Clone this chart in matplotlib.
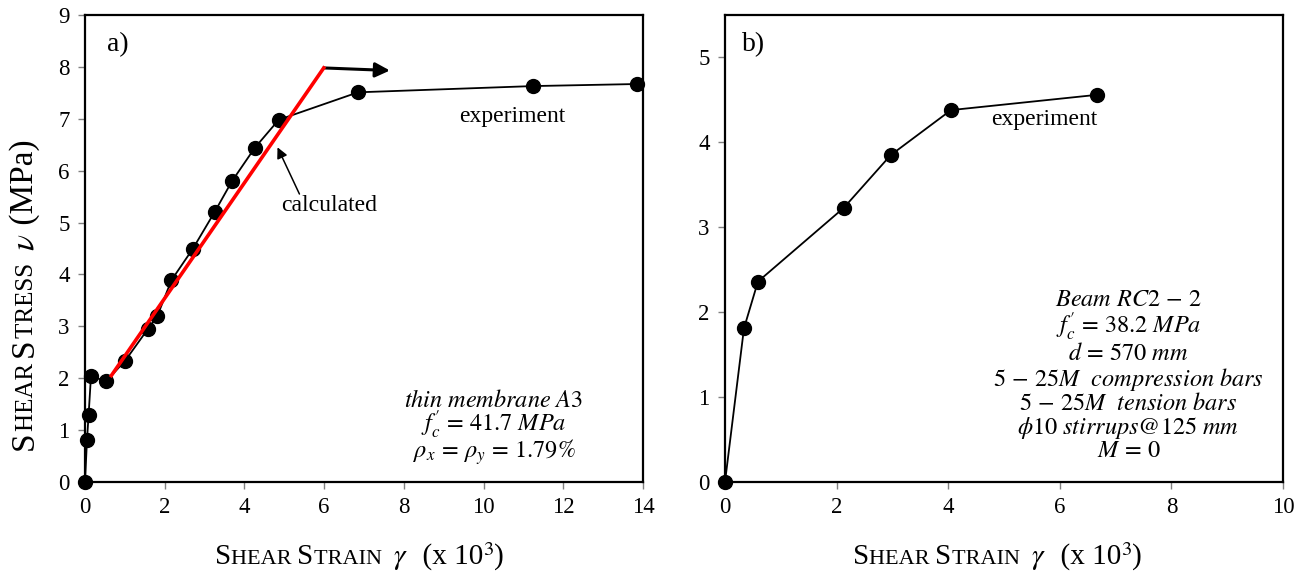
import matplotlib
matplotlib.use("Agg")
import matplotlib.pyplot as plt
import numpy as np

# panel a) thin membrane A3
strain_a = [0.0, 0.05, 0.09, 0.15, 0.53, 1.01, 1.57, 1.81, 2.17, 2.71, 3.25, 3.69, 4.26, 4.86, 6.85, 11.23, 13.85]
stress_a = [0.0, 0.81, 1.29, 2.04, 1.94, 2.34, 2.94, 3.19, 3.89, 4.50, 5.20, 5.80, 6.44, 6.98, 7.51, 7.63, 7.67]
calc_strain = [0.66, 5.99]
calc_stress = [2.05, 7.98]

# panel b) beam RC2-2
strain_b = [0.0, 0.34, 0.59, 2.13, 2.97, 4.05, 6.67]
stress_b = [0.0, 1.81, 2.36, 3.23, 3.85, 4.38, 4.56]

xticks_a = [0, 2, 4, 6, 8, 10, 12, 14]
yticks_a = [0, 1, 2, 3, 4, 5, 6, 7, 8, 9]
xticks_b = [0, 2, 4, 6, 8, 10]
yticks_b = [0, 1, 2, 3, 4, 5]

info_a = [r"$thin\ membrane\ A3$",
          r"$f_c^{\prime}\,=\,41.7\ MPa$",
          r"$\rho_x\,=\,\rho_y\,=\,1.79\%$"]
info_b = [r"$Beam\ RC2\,-\,2$",
          r"$f_c^{\prime}\,=\,38.2\ MPa$",
          r"$d\,=\,570\ mm$",
          r"$5\,-\,25M\ \ compression\ bars$",
          r"$5\,-\,25M\ \ tension\ bars$",
          r"$\phi 10\ stirrups@125\ mm$",
          r"$M\,=\,0$"]

plt.rcParams["font.family"] = ["Liberation Serif", "DejaVu Serif"]
plt.rcParams["mathtext.fontset"] = "stix"

W, H = 1307, 573
fig = plt.figure(figsize=(W / 100, H / 100), dpi=100)
ax1 = fig.add_axes([85 / W, 1 - 482 / H, 558 / W, 467 / H])
ax2 = fig.add_axes([725 / W, 1 - 482 / H, 558 / W, 467 / H])

TICK = 16.5
INFO = 17.5


def style_axes(ax, xticks, yticks, xlim, ylim):
    ax.set_xlim(xlim)
    ax.set_ylim(ylim)
    ax.set_xticks(xticks)
    ax.set_yticks(yticks)
    for s in ax.spines.values():
        s.set_linewidth(1.6)
        s.set_color("black")
    ax.tick_params(direction="out", length=5, width=1, color="#808080",
                   labelsize=TICK, pad=6)


def small_caps(pieces, x, y, rotation=0):
    # draw text pieces one after another (in figure pixels), baseline aligned
    r = fig.canvas.get_renderer()
    for s, size in pieces:
        t = fig.text(x / W, 1 - y / H, s, fontsize=size, rotation=rotation,
                     rotation_mode="anchor", ha="left", va="baseline")
        bb = t.get_window_extent(r)
        if rotation == 0:
            x += bb.width
        else:
            y -= bb.height


style_axes(ax1, xticks_a, yticks_a, (0, 14), (0, 9))
style_axes(ax2, xticks_b, yticks_b, (0, 10), (0, 5.5))

ax1.plot(strain_a, stress_a, color="black", lw=1.3, marker="o", ms=10, clip_on=False, zorder=3)
ax1.plot(calc_strain, calc_stress, color="red", lw=2.6, zorder=4)
ax1.annotate("", xy=(7.65, 7.93), xytext=(calc_strain[1], calc_stress[1]),
             arrowprops=dict(arrowstyle="-|>", lw=2.2, color="black", mutation_scale=22,
                             shrinkA=0, shrinkB=0))
ax1.annotate("", xy=(4.83, 6.45), xytext=(5.38, 5.55),
             arrowprops=dict(arrowstyle="-|>", lw=1.1, color="black", mutation_scale=16,
                             shrinkA=0, shrinkB=0))
ax1.text(6.12, 5.33, "calculated", fontsize=17, ha="center", va="center")
ax1.text(10.73, 7.04, "experiment", fontsize=17, ha="center", va="center")
ax1.text(0.55, 8.42, "a)", fontsize=20, ha="left", va="center")
ax1.text(10.26, 1.03, "\n".join(info_a), fontsize=INFO, ha="center", va="center",
         multialignment="center", linespacing=0.85)

ax2.plot(strain_b, stress_b, color="black", lw=1.3, marker="o", ms=10, clip_on=False, zorder=3)
ax2.text(5.73, 4.27, "experiment", fontsize=17, ha="center", va="center")
ax2.text(0.3, 5.15, "b)", fontsize=20, ha="left", va="center")
ax2.text(7.23, 1.25, "\n".join(info_b), fontsize=INFO, ha="center", va="center",
         multialignment="center", linespacing=1.01)

xlabel = [("S", 21), ("HEAR ", 16), ("S", 21), ("TRAIN  ", 16),
          (r"$\gamma$", 21), ("  (x 10", 21), ("$^{3}$", 21), (")", 21)]
small_caps(xlabel, 215, 564)
small_caps(xlabel, 853, 564)
ylabel = [("S", 24), ("HEAR ", 18), ("S", 24), ("TRESS  ", 18),
          (r"$\nu$", 24), (" (MPa)", 24)]
small_caps(ylabel, 33, 450, rotation=90)

fig.savefig("out.png", dpi=100)
